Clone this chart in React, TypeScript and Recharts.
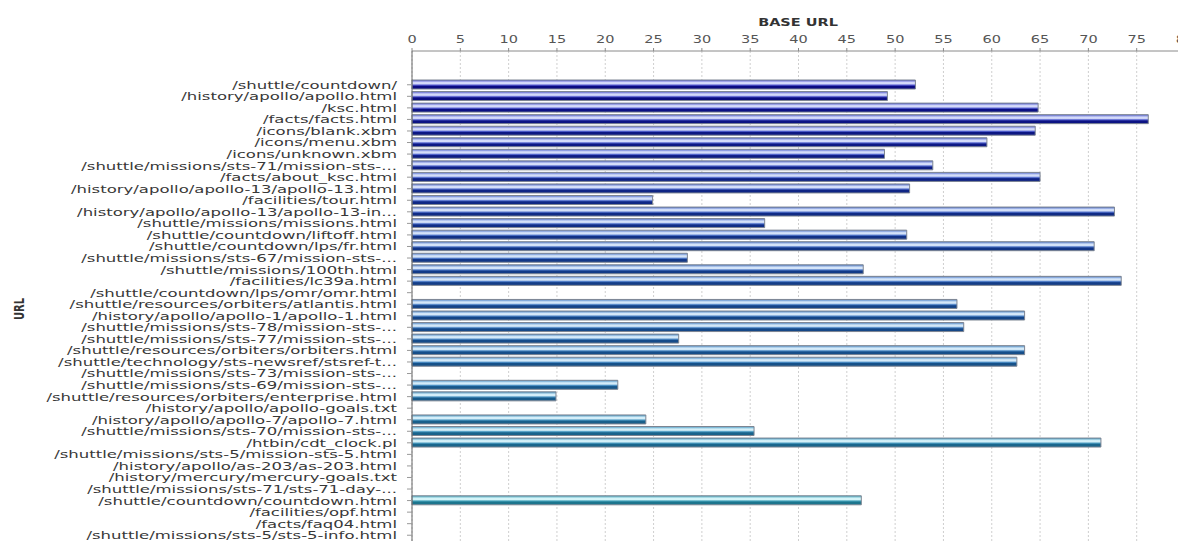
import React from "react";
import { BarChart, Bar, XAxis, YAxis, CartesianGrid, Cell } from "recharts";

const categories = [
  "/shuttle/countdown/",
  "/history/apollo/apollo.html",
  "/ksc.html",
  "/facts/facts.html",
  "/icons/blank.xbm",
  "/icons/menu.xbm",
  "/icons/unknown.xbm",
  "/shuttle/missions/sts-71/mission-sts-...",
  "/facts/about_ksc.html",
  "/history/apollo/apollo-13/apollo-13.html",
  "/facilities/tour.html",
  "/history/apollo/apollo-13/apollo-13-in...",
  "/shuttle/missions/missions.html",
  "/shuttle/countdown/liftoff.html",
  "/shuttle/countdown/lps/fr.html",
  "/shuttle/missions/sts-67/mission-sts-...",
  "/shuttle/missions/100th.html",
  "/facilities/lc39a.html",
  "/shuttle/countdown/lps/omr/omr.html",
  "/shuttle/resources/orbiters/atlantis.html",
  "/history/apollo/apollo-1/apollo-1.html",
  "/shuttle/missions/sts-78/mission-sts-...",
  "/shuttle/missions/sts-77/mission-sts-...",
  "/shuttle/resources/orbiters/orbiters.html",
  "/shuttle/technology/sts-newsref/stsref-t...",
  "/shuttle/missions/sts-73/mission-sts-...",
  "/shuttle/missions/sts-69/mission-sts-...",
  "/shuttle/resources/orbiters/enterprise.html",
  "/history/apollo/apollo-goals.txt",
  "/history/apollo/apollo-7/apollo-7.html",
  "/shuttle/missions/sts-70/mission-sts-...",
  "/htbin/cdt_clock.pl",
  "/shuttle/missions/sts-5/mission-sts-5.html",
  "/history/apollo/as-203/as-203.html",
  "/history/mercury/mercury-goals.txt",
  "/shuttle/missions/sts-71/sts-71-day-...",
  "/shuttle/countdown/countdown.html",
  "/facilities/opf.html",
  "/facts/faq04.html",
  "/shuttle/missions/sts-5/sts-5-info.html",
];

const baseUrlValues = [
  52.1, 49.2, 64.8, 76.2, 64.5, 59.5, 48.9, 53.9, 65.0, 51.5,
  24.9, 72.7, 36.5, 51.2, 70.6, 28.5, 46.7, 73.4, 0, 56.4,
  63.4, 57.1, 27.6, 63.4, 62.6, 0, 21.3, 14.9, 0, 24.2,
  35.4, 71.3, 0, 0, 0, 0, 46.5, 0, 0, 0,
];

const xTicks = [0, 5, 10, 15, 20, 25, 30, 35, 40, 45, 50, 55, 60, 65, 70, 75, 80];

const data = categories.map((c, i) => ({ url: c, v: baseUrlValues[i] }));

const FONT = "'DejaVu Sans', sans-serif";
const SX = 1.45;
const SXL = 1.5;

function lerp(a: number[], b: number[], t: number) {
  const r = a.map((x, k) => Math.round(x + (b[k] - x) * t));
  return `rgb(${r[0]},${r[1]},${r[2]})`;
}
const DARK0 = [10, 10, 130];
const DARK1 = [30, 126, 142];
const MID0 = [80, 84, 206];
const MID1 = [66, 170, 186];
const LIGHT0 = [212, 216, 250];
const LIGHT1 = [212, 246, 248];

const YTick = (props: any) => {
  const { x, y, payload } = props;
  return (
    <g transform={`translate(${x - 8},${y})`}>
      <text
        transform={`scale(${SXL},1)`}
        textAnchor="end"
        dy="0.36em"
        fontSize={11}
        fill="#383838"
        fontFamily={FONT}
      >
        {payload.value}
      </text>
    </g>
  );
};

const XTick = (props: any) => {
  const { x, payload } = props;
  return (
    <g transform={`translate(${x},43)`}>
      <text transform={`scale(${SX},1)`} textAnchor="middle" fontSize={10} fill="#555" fontFamily={FONT}>
        {payload.value}
      </text>
    </g>
  );
};

export default function App() {
  const n = data.length;
  return (
    <div style={{ width: 1178, height: 541, overflow: "hidden", position: "relative", background: "#fff" }}>
      <style>{`body{margin:0;overflow:hidden;background:#fff}`}</style>
      <BarChart
        width={1200}
        height={541}
        data={data}
        layout="vertical"
        margin={{ top: 21, right: 15, left: 0, bottom: 0 }}
      >
        <defs>
          {data.map((_, i) => {
            const t = i / (n - 1);
            return (
              <linearGradient key={i} id={`bg${i}`} x1="0" y1="0" x2="0" y2="1">
                <stop offset="0%" stopColor={lerp(MID0, MID1, t)} />
                <stop offset="28%" stopColor={lerp(LIGHT0, LIGHT1, t)} />
                <stop offset="42%" stopColor={lerp(LIGHT0, LIGHT1, t)} />
                <stop offset="58%" stopColor={lerp(MID0, MID1, t)} />
                <stop offset="70%" stopColor={lerp(DARK0, DARK1, t)} />
                <stop offset="100%" stopColor={lerp(DARK0, DARK1, t)} />
              </linearGradient>
            );
          })}
        </defs>
        <CartesianGrid horizontal={false} strokeDasharray="2 2" stroke="#cfcfcf" />
        <XAxis
          type="number"
          orientation="top"
          domain={[0, 80]}
          ticks={xTicks}
          interval={0}
          height={30}
          tick={<XTick />}
          tickSize={3}
          axisLine={{ stroke: "#8a8a8a" }}
          tickLine={{ stroke: "#8a8a8a" }}
        />
        <YAxis
          type="category"
          dataKey="url"
          width={412}
          interval={0}
          tick={<YTick />}
          tickSize={5}
          padding={{ top: 28, bottom: 0 }}
          axisLine={{ stroke: "#666" }}
          tickLine={{ stroke: "#999" }}
        />
        <Bar dataKey="v" barSize={9} isAnimationActive={false} stroke="#7d8592" strokeWidth={1}>
          {data.map((_, i) => (
            <Cell key={i} fill={`url(#bg${i})`} />
          ))}
        </Bar>
        <g transform="translate(798,22)">
          <text transform={`scale(${SX},1)`} textAnchor="middle" dy="0.35em" fontSize={10} fontWeight="bold" fill="#333" fontFamily={FONT}>
            BASE URL
          </text>
        </g>
        <g transform="translate(19,309)">
          <text transform={`scale(${SX},1) rotate(-90)`} textAnchor="middle" dy="0.35em" fontSize={10} fontWeight="bold" fill="#333" fontFamily={FONT}>
            URL
          </text>
        </g>
      </BarChart>
    </div>
  );
}
